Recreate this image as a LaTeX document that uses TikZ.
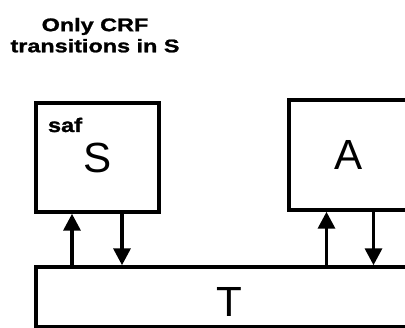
\documentclass[tikz,border=0pt]{standalone}
\usepackage{fontspec}
\setmainfont{Liberation Sans}
\newfontfamily\heavyfont{Liberation Sans Bold}[FakeBold=1.2]
\usetikzlibrary{arrows.meta,positioning}

\begin{document}
\begin{tikzpicture}[
      box/.style={rectangle, draw=black, line width=2.5pt, inner sep=0pt, font=\fontsize{30}{36}\selectfont},
      pfeil/.style={-{Triangle[width=12pt,length=12pt]}, line width=2.5pt}]

\path[use as bounding box, clip] (0,0) rectangle (10.125,8.2);

\node[align=center, xscale=1.28, font=\fontsize{13}{15}\selectfont\heavyfont] (title) at (2.375,7.32) {Only CRF\\transitions in S};

\node[box, minimum width=3.075cm, minimum height=2.725cm] (S) at (2.4375,4.2625) {S};
\node[box, minimum width=3cm, minimum height=2.75cm] (A) at (8.725,4.325) {A};
\node[box, minimum width=9.65cm, minimum height=1.5cm,
      label={[yshift=-0.13cm, font=\fontsize{30}{36}\selectfont]center:T}] (T) at (5.725,0.775) {};
\node[anchor=base west, xscale=1.2, font=\fontsize{14}{16}\selectfont\heavyfont] (saf) at (1.05,4.9) {saf};

\draw[pfeil] ([xshift=-0.6375cm]S.south |- T.north) -- ([xshift=-0.6375cm]S.south);
\draw[pfeil] ([xshift=0.6125cm]S.south) -- ([xshift=0.6125cm]S.south |- T.north);
\draw[pfeil] ([xshift=-0.5625cm]A.south |- T.north) -- ([xshift=-0.5625cm]A.south);
\draw[pfeil] ([xshift=0.6125cm]A.south) -- ([xshift=0.6125cm]A.south |- T.north);

\end{tikzpicture}
\end{document}
